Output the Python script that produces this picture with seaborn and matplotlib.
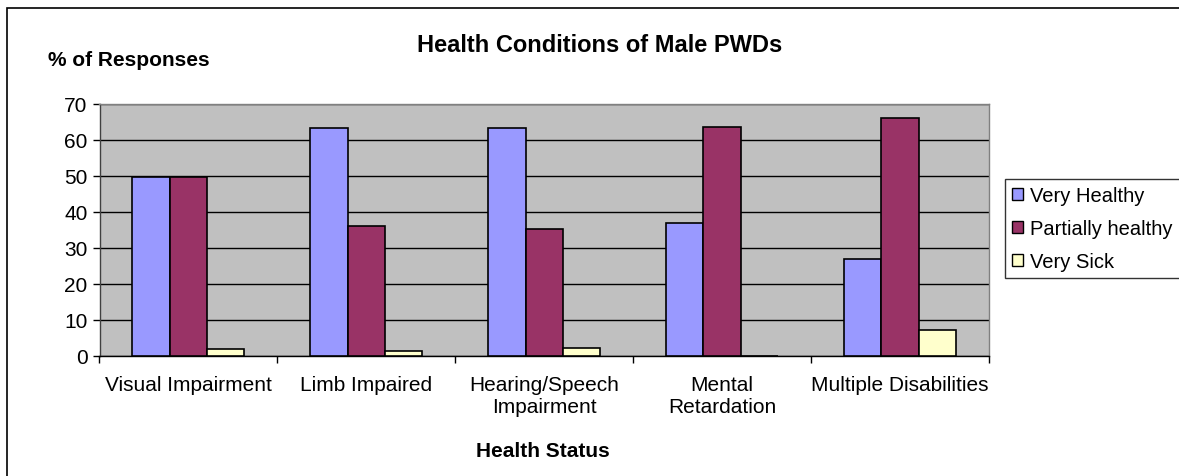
import pandas as pd
import matplotlib.pyplot as plt
import seaborn as sns
from matplotlib.patches import Rectangle
from matplotlib.ticker import MultipleLocator, FixedLocator

# ---- data ----
categories = ['Visual Impairment', 'Limb Impaired', 'Hearing/Speech\nImpairment',
              'Mental\nRetardation', 'Multiple Disabilities']
series_names = ['Very Healthy', 'Partially healthy', 'Very Sick']
very_healthy = [49.6, 63.1, 63.1, 36.7, 26.8]
partially_healthy = [49.6, 36.0, 35.1, 63.4, 65.9]
very_sick = [1.8, 1.3, 2.2, 0.0, 7.1]
colors = ['#9999FF', '#993366', '#FFFFCC']

df = pd.DataFrame({
    'category': categories * 3,
    'series': [s for s in series_names for _ in categories],
    'value': very_healthy + partially_healthy + very_sick,
})

sns.set_style('white')
plt.rcParams['font.family'] = ['Liberation Sans', 'DejaVu Sans']
plt.rcParams['text.color'] = 'black'
plt.rcParams['xtick.color'] = 'black'
plt.rcParams['ytick.color'] = 'black'

W, H = 1179, 477
fig = plt.figure(figsize=(W / 100, H / 100), dpi=100)
ax = fig.add_axes([99.5 / W, 1 - 356.7 / H, (989 - 99.5) / W, (356.7 - 104.5) / H])

sns.barplot(data=df, x='category', y='value', hue='series', order=categories,
            hue_order=series_names, palette=colors, width=0.63, gap=0,
            edgecolor='black', linewidth=1.2, saturation=1, ax=ax, zorder=3)

ax.set_facecolor('#C0C0C0')
ax.set_ylim(0, 70)
ax.set_xlim(-0.5, 4.5)
ax.yaxis.set_major_locator(MultipleLocator(10))
ax.grid(axis='y', color='black', linewidth=1, zorder=1)
ax.set_axisbelow(True)

# x ticks at category boundaries, labels in the middle
ax.xaxis.set_minor_locator(FixedLocator([i - 0.5 for i in range(6)]))
ax.tick_params(axis='x', which='major', length=0, labelsize=15, pad=14)
ax.tick_params(axis='x', which='minor', length=5, width=1, color='black', direction='out')
ax.tick_params(axis='y', length=5, width=1, color='black', direction='out', labelsize=15, pad=3.5)
ax.tick_params(bottom=True, left=True, which='both')
for lbl in ax.get_xticklabels():
    lbl.set_horizontalalignment('center')
    lbl.set_verticalalignment('top')

for side in ['top', 'right']:
    ax.spines[side].set_color('#808080')
    ax.spines[side].set_linewidth(1)
ax.spines['left'].set_color('#404040')
ax.spines['bottom'].set_color('black')
for side in ['left', 'bottom']:
    ax.spines[side].set_linewidth(1)

ax.set_xlabel('')
ax.set_ylabel('')

# legend
handles, labels = ax.get_legend_handles_labels()
ax.legend_.remove()
leg = fig.legend(handles, labels, loc='upper left',
                 bbox_to_anchor=(1005 / W, 1 - 180 / H),
                 bbox_transform=fig.transFigure, frameon=True, fancybox=False,
                 fontsize=14.5, handlelength=0.55, handleheight=0.55,
                 handletextpad=0.35, labelspacing=0.7, borderpad=0.35,
                 borderaxespad=0)
leg.get_frame().set_edgecolor('black')
leg.get_frame().set_linewidth(1)
for h in leg.legend_handles:
    h.set_edgecolor('black')
    h.set_linewidth(1)

# texts
fig.text(417 / W, 1 - 45 / H, 'Health Conditions of Male PWDs',
         ha='left', va='center', fontsize=17, fontweight='bold')
fig.text(48 / W, 1 - 60 / H, '% of Responses',
         ha='left', va='center', fontsize=15, fontweight='bold')
fig.text(543 / W, 1 - 452 / H, 'Health Status',
         ha='center', va='center', fontsize=15, fontweight='bold')

# chart border
fig.patches.append(Rectangle((7 / W, -0.1), 1.2, (1 - 9 / H) + 0.1,
                             transform=fig.transFigure, fill=False,
                             edgecolor='black', linewidth=1.2))

plt.savefig('out.png', dpi=100)
